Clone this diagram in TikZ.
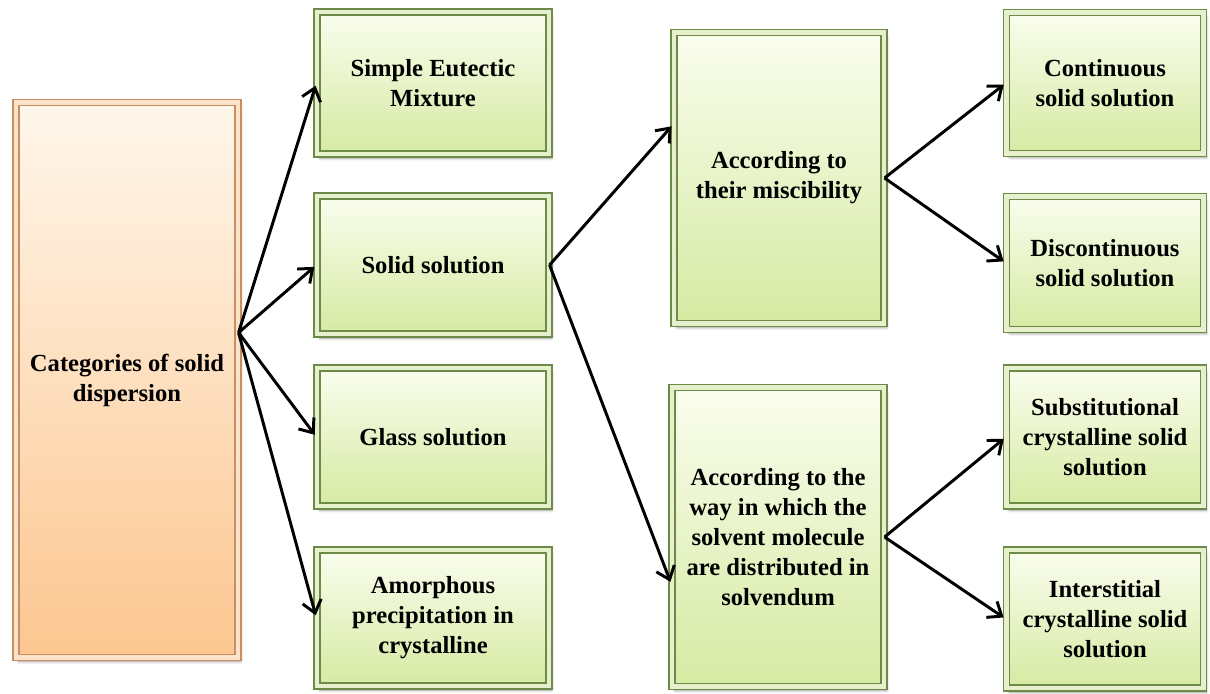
\documentclass[tikz,border=0pt]{standalone}
\usepackage{fontspec}
\setmainfont{Liberation Serif}
\usetikzlibrary{arrows.meta,positioning,shadows.blur}
\definecolor{leaftop}{HTML}{FAFDEE}
\definecolor{leafbot}{HTML}{D6EAA2}
\definecolor{leafrim}{HTML}{6E8A48}
\definecolor{leafgap}{HTML}{E6F0CC}
\definecolor{peachtop}{HTML}{FFF7EC}
\definecolor{peachbot}{HTML}{FCC690}
\definecolor{peachrim}{HTML}{C98F62}
\definecolor{peachgap}{HTML}{FBE3CA}
\tikzset{dims/.style 2 args={minimum width=#1*0.025cm, minimum height=#2*0.025cm}}

\begin{document}
\begin{tikzpicture}[
  x=0.025cm, y=-0.025cm,
  font=\bfseries\fontsize{17.5}{21.3}\selectfont,
  leaf/.style={draw=leafrim, double=leafgap, double distance=3.4pt, line width=0.8pt,
    top color=leaftop, bottom color=leafbot, align=center, inner sep=2pt,
    blur shadow={shadow xshift=2pt, shadow yshift=-3pt, shadow opacity=40, shadow blur steps=6}},
  root/.style={leaf, draw=peachrim, double=peachgap, top color=peachtop, bottom color=peachbot},
  link/.style={-{Straight Barb[length=3mm,width=4.8mm]}, line width=2.1pt, shorten >=2pt}
]
\useasboundingbox (0,0) rectangle (1210,693);

% first level
\node[root, dims={222}{555}] (cat) at (127,380) {Categories of solid\\dispersion};
\node[leaf, dims={232}{142}] (eut) at (433,83) {Simple Eutectic\\Mixture};
\node[leaf, dims={232}{138}] (sol) at (433,265) {Solid solution};
\node[leaf, dims={232}{138}] (gla) at (433,437) {Glass solution};
\node[leaf, dims={232}{136}] (amo) at (433,618) {Amorphous\\precipitation in\\crystalline};

% second level
\node[leaf, dims={210}{291}] (mis) at (779,178) {According to\\their miscibility};
\node[leaf, dims={212}{299}] (way) at (778,537) {According to the\\way in which the\\solvent molecule\\are distributed in\\solvendum};

% third level
\node[leaf, dims={197}{141}] (con) at (1105,83) {Continuous\\solid solution};
\node[leaf, dims={197}{133}] (dis) at (1105,263) {Discontinuous\\solid solution};
\node[leaf, dims={197}{138}] (sub) at (1105,437) {Substitutional\\crystalline solid\\solution};
\node[leaf, dims={197}{138}] (int) at (1105,619) {Interstitial\\crystalline solid\\solution};

\draw[link] (cat.23) -- (eut.west);
\draw[link] (cat.23) -- (sol.west);
\draw[link] (cat.23) -- (gla.west);
\draw[link] (cat.23) -- (amo.west);
\draw[link] (sol.east) -- (mis.153);
\draw[link] (sol.east) -- (way.204);
\draw[link] (mis.east) -- (con.west);
\draw[link] (mis.east) -- (dis.west);
\draw[link] (way.east) -- (sub.west);
\draw[link] (way.east) -- (int.west);
\end{tikzpicture}
\end{document}
